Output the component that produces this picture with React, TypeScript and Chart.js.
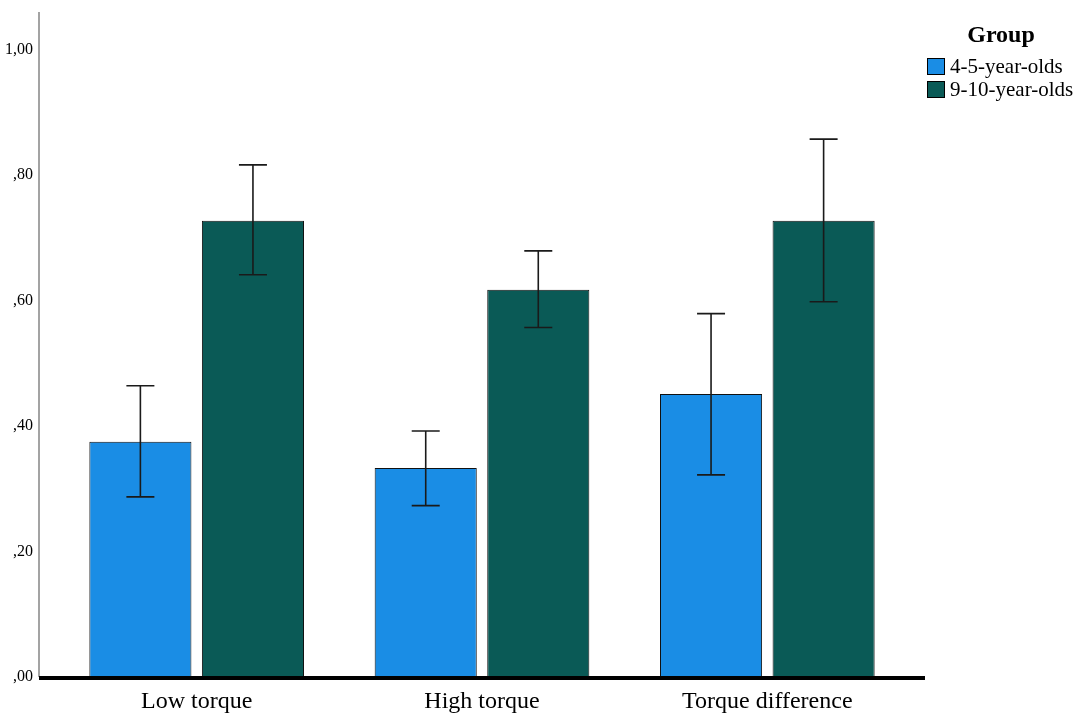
import { useEffect, useRef } from 'react';
import Chart from 'chart.js/auto';

const categories = ['Low torque', 'High torque', 'Torque difference'];
const groups = ['4-5-year-olds', '9-10-year-olds'];
const youngMeans = [0.375, 0.333, 0.451];
const youngLow = [0.287, 0.273, 0.322];
const youngHigh = [0.464, 0.392, 0.579];
const olderMeans = [0.727, 0.617, 0.727];
const olderLow = [0.641, 0.557, 0.598];
const olderHigh = [0.816, 0.679, 0.857];
const yTicks = [0, 0.2, 0.4, 0.6, 0.8, 1.0];

const colors = ['#1a8de5', '#0a5a56'];
const FONT = '"Liberation Serif", "Times New Roman", serif';

// SPSS-style comma decimal labels: ,80 / 1,00
const fmt = (v: number) => {
  const s = v.toFixed(2).replace('.', ',');
  return s.startsWith('0,') ? s.slice(1) : s;
};

const errorBars = {
  id: 'errorBars',
  afterDatasetsDraw(chart: any) {
    const { ctx } = chart;
    const y = chart.scales.y;
    const ranges = [
      [youngLow, youngHigh],
      [olderLow, olderHigh],
    ];
    ctx.save();
    ctx.strokeStyle = '#1a1a1a';
    ctx.lineWidth = 1.6;
    chart.data.datasets.forEach((_: any, di: number) => {
      const meta = chart.getDatasetMeta(di);
      meta.data.forEach((bar: any, i: number) => {
        const top = y.getPixelForValue(ranges[di][1][i]);
        const bot = y.getPixelForValue(ranges[di][0][i]);
        const x = bar.x;
        ctx.beginPath();
        ctx.moveTo(x, top);
        ctx.lineTo(x, bot);
        ctx.moveTo(x - 14, top);
        ctx.lineTo(x + 14, top);
        ctx.moveTo(x - 14, bot);
        ctx.lineTo(x + 14, bot);
        ctx.stroke();
      });
    });
    ctx.restore();
  },
};

const frame = {
  id: 'frame',
  afterDraw(chart: any) {
    const { ctx, chartArea } = chart;
    const axisX = chartArea.left - 15;
    ctx.save();
    // vertical axis
    ctx.strokeStyle = '#666';
    ctx.lineWidth = 1.2;
    ctx.beginPath();
    ctx.moveTo(axisX, 12);
    ctx.lineTo(axisX, chartArea.bottom);
    ctx.stroke();
    // heavy baseline
    ctx.strokeStyle = '#000';
    ctx.lineWidth = 4;
    ctx.beginPath();
    ctx.moveTo(axisX, chartArea.bottom + 1);
    ctx.lineTo(chartArea.right + 15, chartArea.bottom + 1);
    ctx.stroke();

    // legend
    ctx.fillStyle = '#000';
    ctx.font = `bold 24px ${FONT}`;
    ctx.textAlign = 'center';
    ctx.textBaseline = 'middle';
    ctx.fillText('Group', 1001, 36);
    ctx.font = `21px ${FONT}`;
    ctx.textAlign = 'left';
    groups.forEach((g, i) => {
      const yy = 58 + i * 23;
      ctx.fillStyle = colors[i];
      ctx.fillRect(927, yy, 18, 17);
      ctx.strokeStyle = '#000';
      ctx.lineWidth = 1;
      ctx.strokeRect(927.5, yy + 0.5, 17, 16);
      ctx.fillStyle = '#000';
      ctx.fillText(g, 950, yy + 9);
    });
    ctx.restore();
  },
};

export default function App() {
  const canvasRef = useRef<HTMLCanvasElement>(null);

  useEffect(() => {
    if (!canvasRef.current) return;
    const chart = new Chart(canvasRef.current, {
      type: 'bar',
      data: {
        labels: categories,
        datasets: [
          {
            label: groups[0],
            data: youngMeans,
            backgroundColor: colors[0],
            borderColor: '#111',
            borderWidth: 1,
          },
          {
            label: groups[1],
            data: olderMeans,
            backgroundColor: colors[1],
            borderColor: '#111',
            borderWidth: 1,
          },
        ],
      },
      options: {
        animation: false,
        responsive: true,
        maintainAspectRatio: false,
        layout: { padding: { top: 12, right: 174, bottom: 0, left: 0 } },
        datasets: {
          bar: { categoryPercentage: 0.789, barPercentage: 0.907 },
        },
        plugins: {
          legend: { display: false },
          tooltip: { enabled: false },
        },
        scales: {
          x: {
            grid: { display: false, drawTicks: false },
            border: { display: false },
            ticks: {
              color: '#000',
              padding: 10,
              font: { family: FONT, size: 24 },
            },
            afterFit(scale: any) {
              scale.height = 46;
            },
          },
          y: {
            min: 0,
            max: 1.03,
            grid: { display: false, drawTicks: false },
            border: { display: false },
            afterBuildTicks(scale: any) {
              scale.ticks = yTicks.map((v) => ({ value: v }));
            },
            ticks: {
              color: '#000',
              padding: 21,
              font: { family: FONT, size: 16 },
              callback: (v: any) => fmt(Number(v)),
            },
            afterFit(scale: any) {
              scale.width = 54;
            },
          },
        },
      },
      plugins: [errorBars, frame],
    });
    return () => chart.destroy();
  }, []);

  return (
    <div
      style={{
        position: 'absolute',
        left: 0,
        top: 0,
        width: 1084,
        height: 723,
        background: '#fff',
      }}
    >
      <canvas ref={canvasRef} />
    </div>
  );
}
